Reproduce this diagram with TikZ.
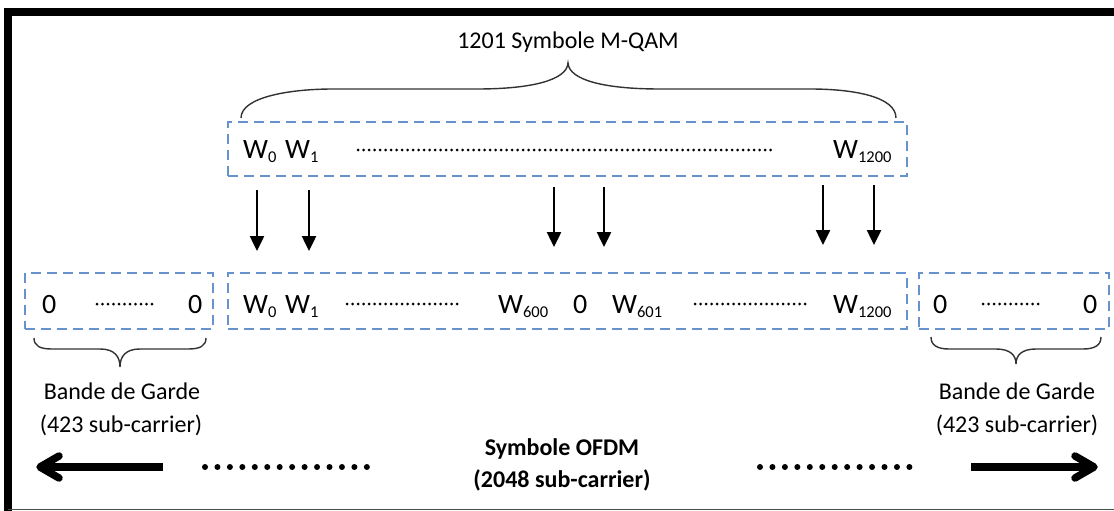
\documentclass[tikz,border=0pt]{standalone}
\usepackage{fontspec}
\setmainfont{Carlito}
\usetikzlibrary{arrows.meta}
\definecolor{dblue}{RGB}{102,146,205}
\definecolor{bracec}{RGB}{50,50,50}
\newcommand\wsub[1]{\raisebox{-4.5pt}{\fontsize{16.5}{17}\selectfont #1}}
\begin{document}
\begin{tikzpicture}[x=1pt,y=-1pt,
 dbox/.style={draw=dblue, line width=2.5pt, dash pattern=on 10pt off 6pt, inner sep=0pt},
 wtxt/.style={inner sep=0pt, anchor=base west, font=\fontsize{28}{30}\selectfont},
 lbl/.style={inner sep=0pt, anchor=base, font=\fontsize{24}{26}\selectfont},
 blbl/.style={inner sep=0pt, anchor=base, font=\fontsize{24}{26}\selectfont\bfseries},
 sdots/.style={line width=3pt, dash pattern=on 0pt off 5.5pt, line cap=round},
 bdots/.style={line width=6pt, dash pattern=on 0pt off 12.45pt, line cap=round},
 thinarr/.style={line width=2.5pt, -{Triangle[width=14pt,length=15pt]}},
 shaft/.style={line width=7.5pt},
 headst/.style={line width=7.5pt, line cap=round, line join=round},
 brace/.style={draw=bracec, line width=1.4pt},
]
\useasboundingbox (0,0) rectangle (1114,511);
% frame
\draw[line width=8pt] (8,511) -- (8,12) -- (1114,12);
\draw[gray!60!black, line width=1.5pt] (8,509.5) -- (1114,509.5);

% boxes
\node[dbox, minimum width=679pt, minimum height=54pt] (topbox) at (567.5,149) {};
\node[dbox, minimum width=188pt, minimum height=56pt] (lbox) at (119,301) {};
\node[dbox, minimum width=679pt, minimum height=56pt] (mbox) at (567.5,301) {};
\node[dbox, minimum width=190pt, minimum height=56pt] (rbox) at (1014,301) {};

% top box content
\node[wtxt] (tw0) at (243,158) {W\wsub{0}};
\node[wtxt] (tw1) at (285,158) {W\wsub{1}};
\node[wtxt] (tw1200) at (833,158) {W\wsub{1200}};
\draw[sdots] (358,150) -- (772,150);

% lower left box
\node[wtxt] (lz0) at (42,313) {0};
\node[wtxt] (lz1) at (188,313) {0};
\draw[sdots] (97,304) -- (153,304);

% middle box
\node[wtxt] (mw0) at (243,313) {W\wsub{0}};
\node[wtxt] (mw1) at (285,313) {W\wsub{1}};
\draw[sdots] (347,304) -- (462,304);
\node[wtxt] (mw600) at (498,313) {W\wsub{600}};
\node[wtxt] (mz) at (573,313) {0};
\node[wtxt] (mw601) at (612,313) {W\wsub{601}};
\draw[sdots] (695,304) -- (808,304);
\node[wtxt] (mw1200) at (833,313) {W\wsub{1200}};

% right box
\node[wtxt] (rz0) at (933,313) {0};
\node[wtxt] (rz1) at (1083,313) {0};
\draw[sdots] (983,304) -- (1042,304);

% top brace and label
\draw[brace] (241,118) .. controls (241,97) and (290,89) .. (333,89) -- (477,89)
  .. controls (532,89) and (567,80) .. (568,63)
  .. controls (569,80) and (604,89) .. (660,89) -- (810,89)
  .. controls (855,89) and (896,97) .. (896,118);
\node[lbl] (qam) at (568,49) {1201 Symbole M-QAM};

% lower braces
\draw[brace] (34,338) .. controls (34,346) and (40,349) .. (52,349) -- (100,349)
  .. controls (114,349) and (120,356) .. (120,367)
  .. controls (120,356) and (126,349) .. (140,349) -- (188,349)
  .. controls (200,349) and (206,346) .. (206,338);
\draw[brace] (931,337) .. controls (931,345) and (937,349) .. (949,349) -- (996,349)
  .. controls (1010,349) and (1016,355) .. (1016,364)
  .. controls (1016,355) and (1022,349) .. (1036,349) -- (1083,349)
  .. controls (1095,349) and (1101,345) .. (1101,337);

\node[lbl] (bgl1) at (122,399) {Bande de Garde};
\node[lbl] (bgl2) at (121,432) {(423 sub-carrier)};
\node[lbl] (bgr1) at (1017,399) {Bande de Garde};
\node[lbl] (bgr2) at (1017,432) {(423 sub-carrier)};

% thin arrows
\coordinate (a1s) at (257,190); \coordinate (a1e) at (257,251);
\coordinate (a2s) at (309,190); \coordinate (a2e) at (309,251);
\coordinate (a3s) at (554,187); \coordinate (a3e) at (554,247);
\coordinate (a4s) at (604,187); \coordinate (a4e) at (604,247);
\coordinate (a5s) at (823,185); \coordinate (a5e) at (823,245);
\coordinate (a6s) at (874,185); \coordinate (a6e) at (874,245);
\foreach \i in {1,...,6} {\draw[thinarr] (a\i s) -- (a\i e);}

% bottom OFDM
\node[blbl] (ofdm1) at (562,455) {Symbole OFDM};
\node[blbl] (ofdm2) at (562,487) {(2048 sub-carrier)};
\draw[bdots] (205,467) -- (367,467);
\draw[bdots] (760,467) -- (921,467);

\coordinate (la1) at (163,467); \coordinate (la2) at (40,467);
\draw[shaft] (la1) -- (la2);
\draw[headst] (59,456) -- (la2) -- (59,478);
\coordinate (ra1) at (971,467); \coordinate (ra2) at (1094,467);
\draw[shaft] (ra1) -- (ra2);
\draw[headst] (1075,456) -- (ra2) -- (1075,478);
\end{tikzpicture}
\end{document}
